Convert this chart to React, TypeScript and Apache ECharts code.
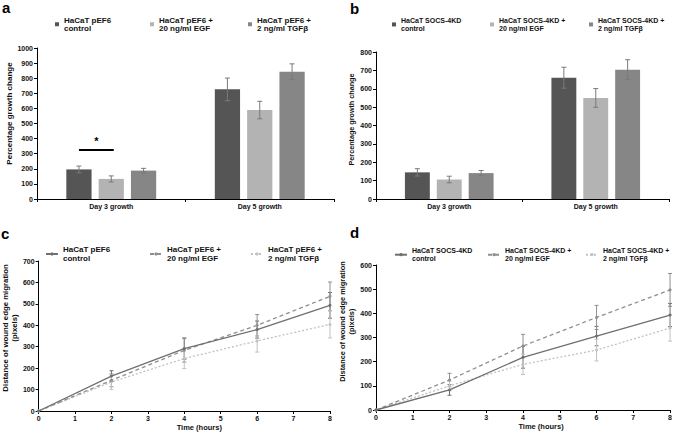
import React, { useEffect, useRef } from 'react';
import * as echarts from 'echarts';

// ---------- data ----------
const barCategories = ['Day 3 growth', 'Day 5 growth'];

const pefLine1 = ['HaCaT pEF6', 'HaCaT pEF6 +', 'HaCaT pEF6 +'];
const socsLine1 = ['HaCaT SOCS-4KD', 'HaCaT SOCS-4KD +', 'HaCaT SOCS-4KD +'];
const treatLine2 = ['control', '20 ng/ml EGF', '2 ng/ml TGFβ'];

// panel a (pEF6 growth)
const aControl = [196, 726];
const aEGF = [133, 589];
const aTGF = [188, 843];
const aControlErr = [22, 75];
const aEGFErr = [20, 58];
const aTGFErr = [15, 52];
const aSignificance = 325;

// panel b (SOCS-4KD growth)
const bControl = [145, 660];
const bEGF = [106, 550];
const bTGF = [141, 704];
const bControlErr = [20, 57];
const bEGFErr = [18, 51];
const bTGFErr = [14, 54];

// panel c / d (migration)
const timeHours = [0, 2, 4, 6, 8];
const cControl = [0, 163, 291, 380, 493];
const cEGF = [0, 143, 283, 400, 535];
const cTGF = [0, 135, 245, 327, 404];
const cControlErr = [0, 25, 50, 40, 60];
const cEGFErr = [0, 30, 55, 50, 67];
const cTGFErr = [0, 35, 47, 52, 63];

const dControl = [0, 83, 218, 306, 393];
const dEGF = [0, 124, 265, 383, 497];
const dTGF = [0, 100, 189, 248, 339];
const dControlErr = [0, 22, 45, 40, 48];
const dEGFErr = [0, 28, 48, 50, 68];
const dTGFErr = [0, 20, 42, 45, 54];

// ---------- style ----------
const FONT = 'Liberation Sans, Arial, sans-serif';
const BAR_COLORS = ['#555555', '#b3b3b3', '#868686'];
const LINE_COLORS = ['#6f6f6f', '#8f8f8f', '#c2c2c2'];
const LINE_TYPES: any[] = ['solid', [4, 3], [2, 2]];
const BAR_W = 0.17;
const BAR_GAP = 0.28;

function barErrRender(color: string) {
  return (params: any, api: any) => {
    const cat = api.value(0);
    const lo = api.value(1);
    const hi = api.value(2);
    const s = api.value(3);
    const band = api.size([1, 0])[0];
    const bw = band * BAR_W;
    const pLo = api.coord([cat, lo]);
    const pHi = api.coord([cat, hi]);
    const cx = pLo[0] + (s - 1) * bw * (1 + BAR_GAP);
    const c = 2.5;
    const st = { stroke: color, lineWidth: 1 };
    return {
      type: 'group',
      children: [
        { type: 'line', shape: { x1: cx, y1: pLo[1], x2: cx, y2: pHi[1] }, style: st },
        { type: 'line', shape: { x1: cx - c, y1: pHi[1], x2: cx + c, y2: pHi[1] }, style: st },
        { type: 'line', shape: { x1: cx - c, y1: pLo[1], x2: cx + c, y2: pLo[1] }, style: st },
      ],
    };
  };
}

function lineErrRender(params: any, api: any) {
  const x = api.value(0);
  const lo = api.value(1);
  const hi = api.value(2);
  const s = api.value(3);
  const pLo = api.coord([x, lo]);
  const pHi = api.coord([x, hi]);
  const cx = pLo[0];
  const c = 2;
  const st = { stroke: LINE_COLORS[s], lineWidth: 1 };
  return {
    type: 'group',
    children: [
      { type: 'line', shape: { x1: cx, y1: pLo[1], x2: cx, y2: pHi[1] }, style: st },
      { type: 'line', shape: { x1: cx - c, y1: pHi[1], x2: cx + c, y2: pHi[1] }, style: st },
      { type: 'line', shape: { x1: cx - c, y1: pLo[1], x2: cx + c, y2: pLo[1] }, style: st },
    ],
  };
}

function sigRender(params: any, api: any) {
  const cat = api.value(0);
  const v = api.value(1);
  const band = api.size([1, 0])[0];
  const bw = band * BAR_W;
  const step = bw * (1 + BAR_GAP);
  const p = api.coord([cat, v]);
  const x0 = p[0] - step;
  const x1 = p[0] + bw * 0.1;
  return {
    type: 'group',
    children: [
      { type: 'line', shape: { x1: x0, y1: p[1], x2: x1, y2: p[1] }, style: { stroke: '#000', lineWidth: 2 } },
      {
        type: 'text',
        style: {
          text: '*',
          x: (x0 + x1) / 2,
          y: p[1] - 3,
          align: 'center',
          verticalAlign: 'bottom',
          font: `bold 11px ${FONT}`,
          fill: '#000',
        },
      },
    ],
  };
}

const legendText = (size: number, lh: number) => ({
  fontSize: size,
  fontWeight: 'bold' as const,
  fontFamily: FONT,
  color: '#111',
  lineHeight: lh,
  padding: [lh, 0, 0, 0],
});

function axisCommon(idx: number) {
  return {
    gridIndex: idx,
    axisLine: { show: true, lineStyle: { color: '#000', width: 1 } },
    axisTick: { show: true, length: 3, lineStyle: { color: '#000' } },
    axisLabel: {
      fontSize: 7,
      fontWeight: 'bold',
      fontFamily: FONT,
      color: '#111',
      margin: 4,
      formatter: (v: any) => String(v),
    },
    splitLine: { show: false },
  };
}

export default function App() {
  const ref = useRef<HTMLDivElement>(null);

  useEffect(() => {
    if (!ref.current) return;
    const chart = echarts.init(ref.current, undefined, { renderer: 'svg' });

    const nameMap: Record<string, string> = {};
    const mkNames = (line1: string[], suffix: string) =>
      line1.map((l, i) => {
        const n = `${l} ${treatLine2[i]}${suffix}`;
        nameMap[n] = `${l}\n${treatLine2[i]}`;
        return n;
      });
    const pefNames = mkNames(pefLine1, '');
    const socsNames = mkNames(socsLine1, ' ');
    const pefLineNames = mkNames(pefLine1, '  ');
    const socsLineNames = mkNames(socsLine1, '   ');
    const fmt = (n: string) => nameMap[n] || n;

    const aMeans = [aControl, aEGF, aTGF];
    const aErrs = [aControlErr, aEGFErr, aTGFErr];
    const bMeans = [bControl, bEGF, bTGF];
    const bErrs = [bControlErr, bEGFErr, bTGFErr];
    const cMeans = [cControl, cEGF, cTGF];
    const cErrs = [cControlErr, cEGFErr, cTGFErr];
    const dMeans = [dControl, dEGF, dTGF];
    const dErrs = [dControlErr, dEGFErr, dTGFErr];

    const barErrData = (means: number[][], errs: number[][]) => {
      const out: number[][] = [];
      means.forEach((m, s) =>
        m.forEach((v, c) => out.push([c, v - errs[s][c], v + errs[s][c], s]))
      );
      return out;
    };
    const lineErrData = (means: number[][], errs: number[][]) => {
      const out: number[][] = [];
      means.forEach((m, s) =>
        m.forEach((v, i) => {
          if (errs[s][i] > 0) out.push([timeHours[i], v - errs[s][i], v + errs[s][i], s]);
        })
      );
      return out;
    };

    const series: any[] = [];
    const addBars = (means: number[][], errs: number[][], names: string[], idx: number) => {
      means.forEach((m, s) =>
        series.push({
          type: 'bar',
          name: names[s],
          xAxisIndex: idx,
          yAxisIndex: idx,
          data: m,
          barWidth: '17%',
          barGap: '28%',
          itemStyle: { color: BAR_COLORS[s] },
        })
      );
      series.push({
        type: 'custom',
        xAxisIndex: idx,
        yAxisIndex: idx,
        renderItem: barErrRender('#7a7a7a'),
        encode: { x: 0, y: [1, 2] },
        data: barErrData(means, errs),
        z: 5,
      });
    };
    addBars(aMeans, aErrs, pefNames, 0);
    series.push({
      type: 'custom',
      xAxisIndex: 0,
      yAxisIndex: 0,
      renderItem: sigRender,
      encode: { x: 0, y: 1 },
      data: [[0, aSignificance]],
      z: 5,
    });
    addBars(bMeans, bErrs, socsNames, 1);

    const addLines = (means: number[][], errs: number[][], names: string[], idx: number) => {
      means.forEach((m, s) =>
        series.push({
          type: 'line',
          name: names[s],
          xAxisIndex: idx,
          yAxisIndex: idx,
          data: m.map((v, i) => [timeHours[i], v]),
          symbol: 'circle',
          symbolSize: 3,
          showSymbol: true,
          lineStyle: { color: LINE_COLORS[s], width: 1.3, type: LINE_TYPES[s] },
          itemStyle: { color: LINE_COLORS[s] },
          z: 3 - s,
        })
      );
      series.push({
        type: 'custom',
        xAxisIndex: idx,
        yAxisIndex: idx,
        renderItem: lineErrRender,
        encode: { x: 0, y: [1, 2] },
        data: lineErrData(means, errs),
        z: 1,
      });
    };
    addLines(cMeans, cErrs, pefLineNames, 2);
    addLines(dMeans, dErrs, socsLineNames, 3);

    const mkLegend = (
      name: string,
      left: number,
      top: number,
      icon: string | undefined,
      w: number,
      h: number,
      size: number,
      lh: number
    ) => ({
      data: [name],
      left,
      top,
      icon,
      itemWidth: w,
      itemHeight: h,
      padding: 0,
      selectedMode: false,
      formatter: fmt,
      textStyle: legendText(size, lh),
    });

    const barLegLeftA = [55, 150, 248];
    const barLegLeftB = [392, 490, 589];
    const lineLegLeftC = [45, 149, 250];
    const lineLegLeftD = [394, 487, 585];

    const legends: any[] = [];
    pefNames.forEach((n, i) => legends.push(mkLegend(n, barLegLeftA[i], 11.5, 'rect', 4, 4, 8, 8.5)));
    socsNames.forEach((n, i) => legends.push(mkLegend(n, barLegLeftB[i], 12, 'rect', 4, 4, 7, 8.3)));
    pefLineNames.forEach((n, i) => legends.push(mkLegend(n, lineLegLeftC[i], 240.5, undefined, 12, 4, 8, 9)));
    socsLineNames.forEach((n, i) => legends.push(mkLegend(n, lineLegLeftD[i], 243, undefined, 12, 4, 7, 7.8)));

    const yName = (size: number, shift: number) => ({
      fontSize: size,
      fontWeight: 'bold',
      fontFamily: FONT,
      color: '#111',
      lineHeight: 9,
      padding: [0, 0, 0, shift * 2],
    });
    const xName = (shift: number) => ({
      fontSize: 7.5,
      fontWeight: 'bold',
      fontFamily: FONT,
      color: '#111',
      padding: [0, 0, 0, shift * 2],
    });
    const catTick = { show: true, length: 3, alignWithLabel: false, lineStyle: { color: '#000' } };

    const option: any = {
      animation: false,
      backgroundColor: '#fff',
      grid: [
        { left: 37, top: 48, width: 297, height: 151 },
        { left: 376, top: 52, width: 293, height: 147 },
        { left: 34, top: 261, width: 296, height: 150 },
        { left: 376, top: 265, width: 295, height: 145 },
      ],
      xAxis: [
        { ...axisCommon(0), type: 'category', data: barCategories, axisTick: catTick },
        { ...axisCommon(1), type: 'category', data: barCategories, axisTick: catTick },
        {
          ...axisCommon(2),
          type: 'value',
          min: 0,
          max: 8,
          interval: 1,
          name: 'Time (hours)',
          nameLocation: 'middle',
          nameGap: 12,
          nameTextStyle: xName(15),
        },
        {
          ...axisCommon(3),
          type: 'value',
          min: 0,
          max: 8,
          interval: 1,
          name: 'Time (hours)',
          nameLocation: 'middle',
          nameGap: 12,
          nameTextStyle: xName(18),
        },
      ],
      yAxis: [
        {
          ...axisCommon(0),
          type: 'value',
          min: 0,
          max: 1000,
          interval: 100,
          name: 'Percentage growth change',
          nameLocation: 'middle',
          nameRotate: 90,
          nameGap: 22,
          nameTextStyle: yName(8, 10),
        },
        {
          ...axisCommon(1),
          type: 'value',
          min: 0,
          max: 800,
          interval: 100,
          name: 'Percentage growth change',
          nameLocation: 'middle',
          nameRotate: 90,
          nameGap: 19,
          nameTextStyle: yName(7.2, 6),
        },
        {
          ...axisCommon(2),
          type: 'value',
          min: 0,
          max: 700,
          interval: 100,
          name: 'Distance of wound edge migration\n(pixels)',
          nameLocation: 'middle',
          nameRotate: 90,
          nameGap: 16,
          nameTextStyle: yName(7.8, 8),
        },
        {
          ...axisCommon(3),
          type: 'value',
          min: 0,
          max: 600,
          interval: 100,
          name: 'Distance of wound edge migration\n(pixels)',
          nameLocation: 'middle',
          nameRotate: 90,
          nameGap: 18,
          nameTextStyle: yName(7.4, 16),
        },
      ],
      legend: legends,
      graphic: [
        { type: 'text', left: 2, top: 0, style: { text: 'a', font: `bold 15px ${FONT}`, fill: '#000' } },
        { type: 'text', left: 350, top: 1, style: { text: 'b', font: `bold 15px ${FONT}`, fill: '#000' } },
        { type: 'text', left: 1, top: 226, style: { text: 'c', font: `bold 15px ${FONT}`, fill: '#000' } },
        { type: 'text', left: 350, top: 225, style: { text: 'd', font: `bold 15px ${FONT}`, fill: '#000' } },
      ],
      series,
    };

    chart.setOption(option);
    return () => chart.dispose();
  }, []);

  return (
    <div
      ref={ref}
      style={{ position: 'absolute', left: 0, top: 0, width: 675, height: 432, background: '#fff' }}
    />
  );
}
